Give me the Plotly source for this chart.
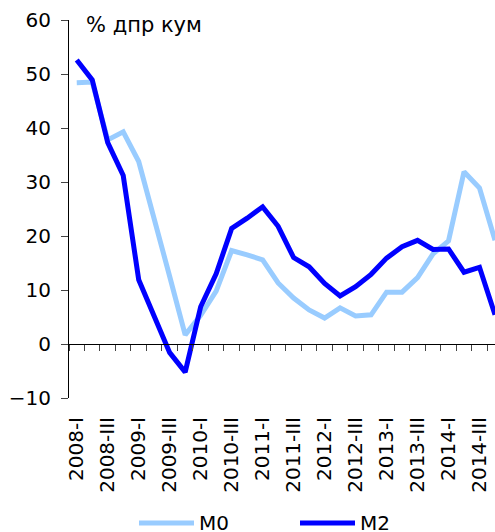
import plotly.graph_objects as go

# Quarterly series, 2008-I .. 2014-IV
years = [2008, 2009, 2010, 2011, 2012, 2013, 2014]
roman = ["I", "II", "III", "IV"]
quarters = [f"{y}-{r}" for y in years for r in roman]

m0 = [48.4, 48.5, 37.8, 39.3, 33.8, 23.5, 12.5, 1.7, 5.3, 9.8, 17.3, 16.5, 15.6, 11.3,
      8.5, 6.3, 4.8, 6.7, 5.2, 5.4, 9.6, 9.6, 12.3, 16.7, 19.1, 31.9, 28.9, 19.2]
m2 = [52.6, 48.9, 37.3, 31.2, 11.9, 5.4, -1.6, -5.2, 6.9, 13.0, 21.4, 23.3, 25.4, 21.8,
      16.0, 14.3, 11.2, 8.9, 10.6, 12.9, 15.9, 18.0, 19.2, 17.5, 17.6, 13.3, 14.2, 5.4]

series_names = ["M0", "M2"]
series_colors = ["#99CCFF", "#0000FF"]

y_ticks = [-10, 0, 10, 20, 30, 40, 50, 60]
unit_label = "% дпр кум"

FONT = "DejaVu Sans"
idx = list(range(len(quarters)))

fig = go.Figure()
for name, vals, col in zip(series_names, [m0, m2], series_colors):
    fig.add_trace(go.Scatter(
        x=idx, y=vals, mode="lines", name=name,
        line=dict(color=col, width=5), showlegend=False,
        xaxis="x", yaxis="y",
    ))

# category boundary ticks along the zero line
fig.add_trace(go.Scatter(x=[None], y=[None], xaxis="x2", yaxis="y", showlegend=False))

ymin, ymax = -10, 60
fig.update_layout(
    width=495, height=532,
    margin=dict(l=69, r=0, t=20, b=134),
    paper_bgcolor="white", plot_bgcolor="white",
    font=dict(family=FONT, size=20, color="black"),
    showlegend=False,
    xaxis=dict(
        range=[-0.5, 27], showgrid=False, zeroline=False, showline=False,
        tickmode="array", tickvals=idx[::2], ticktext=quarters[::2],
        tickangle=-90, ticks="", ticklabelstandoff=14,
        tickfont=dict(family=FONT, size=20),
    ),
    xaxis2=dict(
        range=[-0.5, 27], overlaying="x", anchor="free",
        position=(0 - ymin) / (ymax - ymin),
        showgrid=False, zeroline=False, showline=True, linecolor="black", linewidth=1,
        tickmode="array", tickvals=[i - 0.5 for i in range(len(quarters) + 1)],
        ticks="outside", ticklen=6, tickcolor="#444", showticklabels=False,
    ),
    yaxis=dict(
        range=[ymin, ymax], tickvals=y_ticks, showgrid=False, zeroline=False,
        showline=True, linecolor="black", linewidth=1,
        ticks="outside", ticklen=7, tickcolor="#444", ticklabelstandoff=6,
        tickfont=dict(family=FONT, size=20),
    ),
)

fig.add_annotation(
    text=unit_label, xref="paper", yref="paper", x=15 / 426, y=1 - 5 / 378,
    xanchor="left", yanchor="middle", showarrow=False,
    font=dict(family=FONT, size=21, color="black"),
)

# legend drawn below the axis labels
leg_y = -125 / 378
for k, (name, col) in enumerate(zip(series_names, series_colors)):
    x0 = (139 + 161 * k - 69) / 426
    x1 = (194 + 161 * k - 69) / 426
    fig.add_shape(type="line", xref="paper", yref="paper", x0=x0, x1=x1, y0=leg_y, y1=leg_y,
                  line=dict(color=col, width=5))
    fig.add_annotation(text=name, xref="paper", yref="paper", x=x1 + 3 / 426, y=leg_y,
                       xanchor="left", yanchor="middle", showarrow=False,
                       font=dict(family=FONT, size=20, color="black"))

fig.write_html("out.html")
